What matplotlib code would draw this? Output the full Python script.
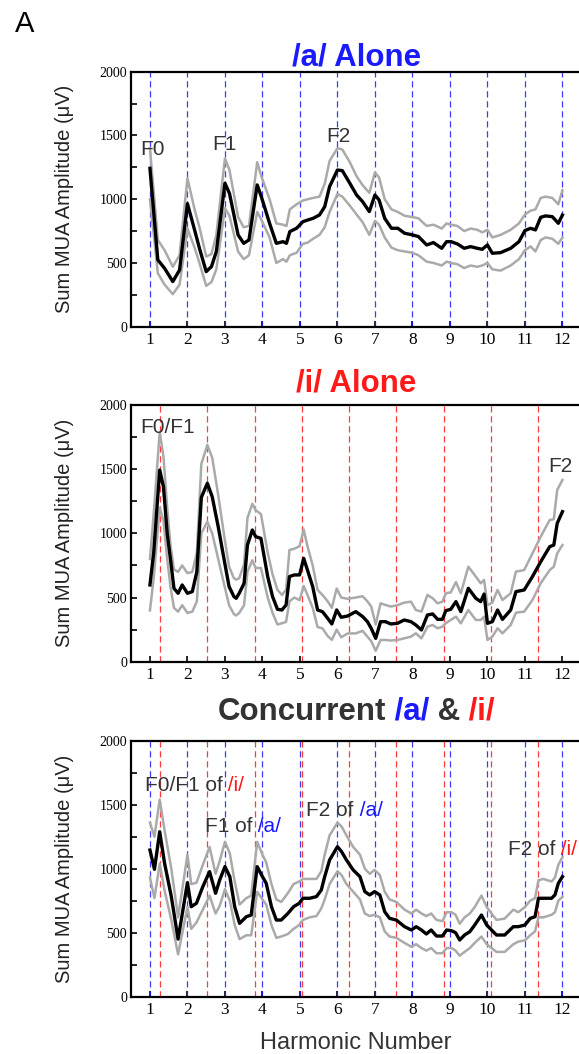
import matplotlib
matplotlib.use("Agg")
import matplotlib.pyplot as plt
from matplotlib.ticker import MultipleLocator

plt.rcParams['font.family'] = ['Liberation Sans', 'DejaVu Sans']

#####  Data (harmonic number, mean, mean+err, mean-err)

harmonics = [1, 2, 3, 4, 5, 6, 7, 8, 9, 10, 11, 12]
# harmonics of the /i/ F0, in units of the /a/ F0
i_harmonics = [1.26, 2.52, 3.79, 5.05, 6.31, 7.57, 8.83, 10.10, 11.36]

a_x = [1.00, 1.21, 1.39, 1.61, 1.79, 2.00, 2.19, 2.32, 2.50, 2.64,
       2.77, 3.00, 3.12, 3.35, 3.50, 3.64, 3.86, 3.97, 4.19, 4.37,
       4.55, 4.64, 4.73, 4.91, 5.08, 5.21, 5.35, 5.52, 5.66, 5.79,
       6.00, 6.13, 6.33, 6.51, 6.67, 6.85, 7.00, 7.11, 7.26, 7.44,
       7.61, 7.79, 8.00, 8.16, 8.38, 8.56, 8.78, 8.91, 9.03, 9.20,
       9.38, 9.55, 9.73, 9.86, 10.00, 10.13, 10.35, 10.62, 10.84, 11.00,
       11.15, 11.28, 11.42, 11.55, 11.73, 11.89, 12.00]
a_mean = [1242, 524, 458, 354, 445, 965, 759, 615, 432, 471,
          589, 1125, 1046, 720, 654, 680, 1112, 1020, 811, 654,
          667, 654, 746, 772, 824, 837, 850, 876, 941, 1099,
          1229, 1224, 1125, 1033, 981, 903, 1033, 994, 850, 772,
          772, 733, 720, 707, 641, 660, 615, 667, 667, 649,
          615, 628, 615, 607, 641, 576, 581, 615, 667, 754,
          772, 759, 858, 869, 863, 811, 876]
a_upper = [1400, 680, 600, 470, 560, 1165, 920, 780, 550, 570,
           720, 1320, 1230, 860, 780, 790, 1290, 1180, 1000, 810,
           800, 790, 920, 960, 990, 1000, 1010, 1020, 1120, 1300,
           1400, 1390, 1290, 1180, 1110, 1050, 1210, 1170, 1000, 920,
           900, 870, 860, 850, 790, 800, 770, 810, 800, 790,
           750, 770, 760, 740, 760, 700, 720, 760, 810, 880,
           910, 920, 1010, 1020, 1010, 960, 1070]
a_lower = [1000, 420, 330, 255, 330, 770, 620, 500, 320, 350,
           450, 930, 870, 590, 530, 560, 900, 840, 700, 500,
           530, 510, 560, 580, 650, 660, 690, 720, 780, 900,
           1040, 1020, 950, 880, 820, 720, 830, 800, 700, 620,
           600, 590, 580, 560, 510, 500, 480, 510, 500, 490,
           460, 480, 470, 480, 500, 450, 440, 480, 530, 600,
           630, 590, 680, 700, 690, 650, 700]

i_x = [1.00, 1.10, 1.26, 1.36, 1.46, 1.55, 1.64, 1.75, 1.86, 2.00,
       2.13, 2.25, 2.37, 2.53, 2.66, 2.82, 2.98, 3.11, 3.24, 3.30,
       3.38, 3.51, 3.60, 3.73, 3.82, 3.96, 4.14, 4.27, 4.40, 4.52,
       4.63, 4.72, 4.85, 4.99, 5.10, 5.20, 5.34, 5.47, 5.60, 5.74,
       5.85, 5.98, 6.10, 6.27, 6.49, 6.67, 6.80, 6.90, 7.02, 7.15,
       7.28, 7.42, 7.60, 7.78, 7.96, 8.09, 8.24, 8.40, 8.54, 8.67,
       8.80, 8.89, 9.02, 9.16, 9.29, 9.49, 9.69, 9.82, 9.91, 10.00,
       10.13, 10.27, 10.40, 10.62, 10.76, 10.98, 11.20, 11.42, 11.66, 11.77,
       11.86, 12.00]
i_mean = [598, 850, 1493, 1364, 1000, 792, 572, 533, 598, 533,
          546, 700, 1280, 1390, 1286, 1052, 792, 585, 507, 494,
          533, 611, 909, 1026, 974, 961, 663, 507, 408, 403,
          442, 663, 676, 676, 805, 714, 585, 403, 390, 338,
          294, 403, 346, 356, 390, 352, 312, 260, 182, 312,
          312, 294, 299, 325, 312, 286, 247, 364, 372, 330,
          330, 398, 408, 468, 390, 572, 494, 468, 527, 299,
          312, 403, 330, 403, 546, 559, 663, 779, 896, 909,
          1078, 1169]
i_upper = [800, 1150, 1790, 1600, 1200, 900, 720, 700, 750, 690,
           700, 850, 1540, 1690, 1590, 1300, 980, 740, 650, 640,
           650, 760, 1120, 1230, 1180, 1150, 850, 680, 560, 520,
           560, 870, 880, 900, 1030, 900, 750, 560, 520, 470,
           420, 570, 500, 490, 500, 510, 470, 430, 290, 455,
           442, 430, 440, 460, 468, 403, 390, 520, 494, 455,
           468, 533, 540, 620, 533, 740, 663, 611, 637, 440,
           460, 559, 481, 533, 702, 714, 844, 974, 1104, 1110,
           1338, 1416]
i_lower = [400, 650, 1200, 1100, 800, 580, 420, 390, 440, 380,
           390, 470, 1000, 1090, 1000, 800, 600, 440, 370, 360,
           380, 440, 700, 790, 730, 730, 500, 380, 290, 300,
           310, 470, 500, 480, 590, 520, 420, 270, 260, 200,
           170, 250, 190, 220, 221, 240, 195, 160, 85, 169,
           169, 165, 169, 182, 195, 221, 182, 273, 286, 260,
           273, 300, 325, 351, 299, 403, 325, 325, 351, 169,
           195, 260, 221, 286, 382, 390, 481, 611, 714, 740,
           844, 909]

c_x = [1.00, 1.12, 1.26, 1.39, 1.57, 1.75, 2.00, 2.10, 2.24, 2.41,
       2.59, 2.75, 2.86, 3.00, 3.13, 3.26, 3.39, 3.57, 3.70, 3.86,
       4.00, 4.10, 4.24, 4.37, 4.50, 4.68, 4.83, 4.98, 5.08, 5.26,
       5.44, 5.57, 5.66, 5.79, 6.00, 6.11, 6.24, 6.42, 6.60, 6.73,
       6.86, 6.99, 7.13, 7.26, 7.39, 7.57, 7.79, 7.97, 8.10, 8.24,
       8.37, 8.50, 8.64, 8.80, 8.91, 9.04, 9.15, 9.26, 9.39, 9.53,
       9.66, 9.84, 9.98, 10.11, 10.24, 10.46, 10.69, 10.82, 11.00, 11.14,
       11.27, 11.36, 11.49, 11.71, 11.80, 11.89, 12.00]
c_mean = [1146, 995, 1289, 1042, 782, 450, 891, 703, 730, 860,
          977, 808, 912, 1016, 938, 703, 573, 625, 638, 1016,
          938, 886, 703, 599, 599, 651, 703, 730, 769, 769,
          782, 834, 938, 1068, 1172, 1133, 1068, 990, 938, 821,
          795, 821, 795, 664, 612, 599, 547, 521, 547, 521,
          490, 521, 474, 474, 521, 516, 500, 443, 482, 508,
          560, 638, 560, 521, 482, 482, 547, 547, 560, 612,
          625, 769, 769, 769, 795, 886, 938]
c_upper = [1360, 1250, 1540, 1300, 1000, 620, 1110, 880, 890, 1030,
           1170, 960, 1060, 1210, 1120, 900, 720, 770, 790, 1210,
           1110, 1050, 880, 760, 740, 810, 880, 900, 920, 920,
           920, 980, 1110, 1260, 1360, 1330, 1260, 1170, 1110, 1000,
           960, 990, 950, 820, 760, 740, 680, 650, 680, 650,
           630, 650, 600, 590, 660, 660, 640, 570, 620, 650,
           700, 790, 700, 650, 600, 610, 680, 660, 700, 750,
           770, 910, 920, 900, 930, 1030, 1090]
c_lower = [930, 770, 1040, 830, 600, 330, 700, 530, 580, 680,
           790, 650, 710, 840, 750, 560, 450, 480, 480, 820,
           760, 720, 560, 460, 470, 490, 530, 560, 600, 620,
           630, 690, 760, 880, 980, 950, 880, 820, 760, 650,
           630, 640, 620, 510, 470, 460, 420, 390, 410, 380,
           360, 380, 340, 340, 380, 380, 360, 320, 350, 380,
           420, 470, 410, 380, 350, 350, 410, 430, 440, 480,
           510, 620, 620, 640, 660, 750, 780]

BLUE = '#1a1aff'
RED = '#ff1a1a'
DARK = '#333333'
W, H = 579, 1054

fig = plt.figure(figsize=(W / 100, H / 100), dpi=100)


def axes_at(top_px, bottom_px, left_px=131.2, right_px=581.2):
    return fig.add_axes([left_px / W, 1 - bottom_px / H,
                         (right_px - left_px) / W, (bottom_px - top_px) / H])


def draw_panel(ax, x, mean, upper, lower, blue_lines, red_lines):
    '''
    One spectrum panel: dashed harmonic markers, error lines and mean
    '''
    for h in blue_lines:
        ax.axvline(h, color=BLUE, lw=0.9, ls=(0, (5, 3)), alpha=0.85)
    for h in red_lines:
        ax.axvline(h, color=RED, lw=0.9, ls=(0, (5, 3)), alpha=0.85)
    ax.plot(x, upper, color='#aaaaaa', lw=1.8)
    ax.plot(x, lower, color='#aaaaaa', lw=1.8)
    ax.plot(x, mean, color='black', lw=2.4)
    ax.set_xlim(0.5, 12.5)
    ax.set_ylim(0, 2000)
    ax.set_xticks(harmonics)
    ax.set_yticks([0, 500, 1000, 1500, 2000])
    ax.yaxis.set_minor_locator(MultipleLocator(250))
    ax.tick_params(axis='both', which='both', direction='in', width=1.2)
    ax.tick_params(axis='both', which='major', length=4)
    ax.tick_params(axis='y', which='minor', length=4)
    ax.tick_params(axis='x', labelsize=12.5, pad=4, labelfontfamily='Liberation Serif')
    ax.tick_params(axis='y', labelsize=10, pad=3, labelfontfamily='Liberation Serif')
    for side in ['top', 'left', 'bottom']:
        ax.spines[side].set_linewidth(1.6)
    ax.spines['right'].set_visible(False)
    ax.set_ylabel('Sum MUA Amplitude (\u03bcV)', fontsize=14.5, color='#222222')
    ax.yaxis.set_label_coords(-0.126, 0.5)


def chain_text(ax, x, y, parts, size, weight='normal', transform=None):
    '''
    Writes several coloured pieces one after another, returns the pieces
    '''
    pieces = []
    t = ax.text(x, y, parts[0][0], color=parts[0][1], fontsize=size,
                fontweight=weight, va='baseline', ha='left',
                transform=transform if transform is not None else ax.transData)
    pieces.append(t)
    for s, c in parts[1:]:
        t = ax.annotate(s, xy=(1, 0), xycoords=t, va='bottom', ha='left',
                        color=c, fontsize=size, fontweight=weight)
        pieces.append(t)
    return pieces


ax1 = axes_at(71.7, 326.7)
draw_panel(ax1, a_x, a_mean, a_upper, a_lower, harmonics, [])
ax2 = axes_at(405.0, 661.7)
draw_panel(ax2, i_x, i_mean, i_upper, i_lower, [], i_harmonics)
ax3 = axes_at(740.7, 996.7)
draw_panel(ax3, c_x, c_mean, c_upper, c_lower, harmonics, i_harmonics)
ax3.set_xlabel('Harmonic Number', fontsize=17, color=DARK, labelpad=10)

# formant labels
ann = dict(fontsize=15, color=DARK)
ax1.text(0.74, 1347, 'F0', **ann)
ax1.text(2.98, 1386, 'F1', ha='center', **ann)
ax1.text(6.03, 1451, 'F2', ha='center', **ann)
ax2.text(0.75, 1784, 'F0/F1', **ann)
ax2.text(11.95, 1480, 'F2', ha='center', **ann)
chain_text(ax3, 0.86, 1609, [('F0/F1 of', DARK), (' /i/', RED)], 15)
chain_text(ax3, 2.46, 1289, [('F1 of', DARK), (' /a/', BLUE)], 15)
chain_text(ax3, 5.17, 1412, [('F2 of', DARK), (' /a/', BLUE)], 15)
chain_text(ax3, 10.55, 1107, [('F2 of', DARK), (' /i/', RED)], 15)

# panel titles, centred over the axes
titles = [
    (ax1, 65, [('/a/ Alone', BLUE)]),
    (ax2, 391, [('/i/ Alone', RED)]),
    (ax3, 720, [('Concurrent', DARK), (' /a/', BLUE), (' &', DARK), (' /i/', RED)]),
]
fig.canvas.draw()
renderer = fig.canvas.get_renderer()
for ax, base_px, parts in titles:
    pieces = chain_text(ax, 0, 1 - base_px / H, parts, 22.5, weight='bold',
                        transform=fig.transFigure)
    fig.canvas.draw()
    left = pieces[0].get_window_extent(renderer).x0
    right = pieces[-1].get_window_extent(renderer).x1
    centre = ax.get_position().x0 * W + ax.get_position().width * W / 2
    pieces[0].set_x((centre - (right - left) / 2) / W)

fig.text(15 / W, 1 - 32 / H, 'A', fontsize=21, color='black')

fig.savefig('out.png', dpi=100)
